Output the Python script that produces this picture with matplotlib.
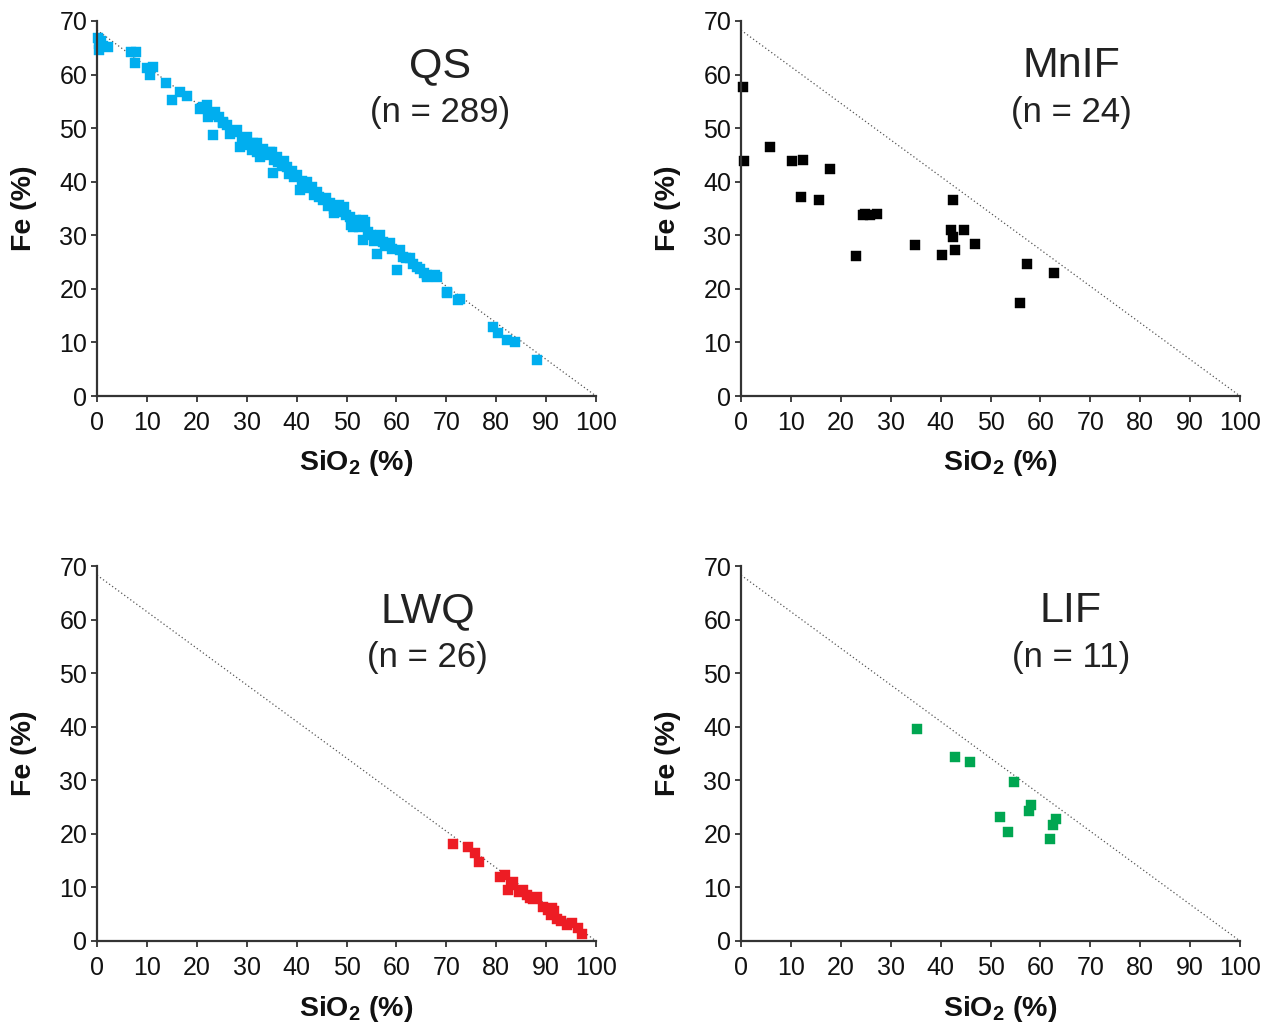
import matplotlib
matplotlib.use("Agg")
import matplotlib.pyplot as plt

plt.rcParams['font.family'] = ['Liberation Sans', 'DejaVu Sans']
plt.rcParams['mathtext.fontset'] = 'custom'
plt.rcParams['mathtext.rm'] = 'Liberation Sans'
plt.rcParams['mathtext.bf'] = 'Liberation Sans:bold'

# ---- data ----
qs_sio2 = [0.3, 0.5, 0.4, 0.8, 1.2, 2.3, 6.9, 7.9, 7.6, 10.0, 11.3, 10.7, 13.8, 15.0, 16.6, 18.1,
           20.6, 21.3, 22.0, 22.3, 22.6, 23.3, 23.6, 24.5, 25.3, 25.3, 26.0, 26.7, 27.3, 28.0,
           28.7, 29.0, 29.5, 30.0, 30.0, 31.3, 31.0, 32.0, 32.0, 32.7, 33.3, 34.0, 34.7, 35.0,
           35.3, 35.5, 36.0, 36.3, 37.0, 37.5, 38.0, 38.5, 39.0, 39.5, 40.0, 40.7, 41.0, 41.5,
           42.0, 42.5, 43.0, 43.5, 44.0, 44.5, 45.3, 45.8, 46.2, 46.7, 47.4, 47.5, 48.0, 48.5,
           49.4, 49.8, 50.7, 51.0, 51.4, 52.0, 52.5, 53.4, 53.4, 53.7, 54.3, 55.0, 55.5, 56.1,
           56.7, 57.3, 57.8, 58.7, 59.2, 60.1, 60.7, 61.3, 62.0, 62.7, 63.3, 64.1, 64.8, 65.5,
           66.1, 66.1, 67.7, 68.1, 70.1, 70.1, 72.4, 72.7, 79.4, 80.4, 82.1, 83.8, 88.1]
qs_fe = [66.8, 65.8, 64.6, 66.2, 65.4, 65.2, 64.3, 64.3, 62.1, 61.2, 61.5, 59.9, 58.4, 55.3, 56.8, 56.0,
         53.5, 54.0, 54.3, 52.1, 52.5, 48.7, 53.1, 52.0, 51.2, 50.9, 50.5, 49.0, 49.3, 49.6,
         46.5, 48.1, 47.5, 46.9, 48.4, 47.2, 46.0, 45.6, 47.2, 44.7, 46.2, 45.0, 45.6, 45.6,
         41.6, 44.0, 44.7, 43.7, 43.0, 43.8, 42.8, 41.5, 42.0, 40.8, 41.3, 38.5, 40.2, 39.5,
         40.0, 38.8, 39.0, 37.6, 38.1, 37.2, 36.6, 37.0, 35.5, 36.0, 34.1, 35.0, 34.4, 35.6,
         35.3, 33.8, 33.5, 32.0, 31.6, 32.9, 31.5, 29.1, 32.9, 32.5, 30.6, 30.0, 29.0, 26.6,
         30.1, 28.8, 28.0, 28.5, 27.5, 23.5, 27.3, 26.0, 25.8, 25.7, 24.6, 24.1, 23.8, 23.0,
         22.6, 22.3, 22.6, 22.3, 19.2, 19.5, 17.9, 18.2, 12.9, 11.7, 10.5, 10.1, 6.8]

mnif_sio2 = [0.5, 0.6, 5.9, 10.2, 12.5, 12.1, 17.8, 15.7, 23.0, 24.4, 24.9, 25.9, 27.3, 34.9,
             40.2, 42.5, 42.1, 42.4, 42.8, 44.7, 46.9, 57.4, 62.8, 56.0]
mnif_fe = [57.6, 43.8, 46.5, 43.8, 44.1, 37.2, 42.4, 36.5, 26.2, 33.7, 33.9, 33.8, 34.0, 28.2,
           26.4, 36.6, 30.9, 29.7, 27.3, 30.9, 28.4, 24.6, 23.0, 17.4]

lwq_sio2 = [71.4, 74.4, 75.8, 76.6, 80.8, 81.8, 82.4, 83.4, 84.6, 86.1, 86.8, 88.1, 89.3, 91.1,
            90.9, 92.1, 94.1, 95.1, 97.1, 82.9, 85.3, 87.4, 90.3, 91.6, 93.0, 96.3]
lwq_fe = [18.2, 17.6, 16.4, 14.8, 11.9, 12.3, 9.5, 11.1, 9.2, 8.6, 8.0, 8.2, 6.3, 6.1,
          4.9, 4.2, 3.0, 3.3, 1.4, 10.4, 9.6, 7.9, 5.8, 5.6, 3.8, 2.4]

lif_sio2 = [35.3, 42.9, 45.9, 54.8, 51.9, 53.6, 58.1, 57.7, 63.2, 62.5, 62.0]
lif_fe = [39.5, 34.3, 33.4, 29.7, 23.1, 20.3, 25.3, 24.2, 22.8, 21.7, 19.0]

line_sio2 = [0, 100]
line_fe = [68.3, 0]

panels = [
    ("QS", "(n = 289)", qs_sio2, qs_fe, "#00AEEF", 68.7, 7.6),
    ("MnIF", "(n = 24)", mnif_sio2, mnif_fe, "#000000", 66.3, 6.8),
    ("LWQ", "(n = 26)", lwq_sio2, lwq_fe, "#ED1C24", 66.3, 7.4),
    ("LIF", "(n = 11)", lif_sio2, lif_fe, "#00A651", 66.1, 7.0),
]

W, H = 1271, 1025
fig = plt.figure(figsize=(W / 100, H / 100), dpi=100)
lefts = [97, 741, 97, 741]
tops = [21, 21, 566, 566]
axw, axh = 499, 375

for (name, ntxt, xs, ys, col, tx, ms), l, t in zip(panels, lefts, tops):
    ax = fig.add_axes([l / W, 1 - (t + axh) / H, axw / W, axh / H])
    ax.plot(line_sio2, line_fe, linestyle=(0, (1, 2)), color='#555555', lw=0.9, zorder=1)
    ax.plot(xs, ys, 's', color=col, ms=ms, mec=col, mew=0.3, zorder=2, clip_on=False)
    ax.set_xlim(0, 100)
    ax.set_ylim(0, 70)
    ax.set_xticks(range(0, 101, 10))
    ax.set_yticks(range(0, 71, 10))
    for s in ['top', 'right']:
        ax.spines[s].set_visible(False)
    for s in ['left', 'bottom']:
        ax.spines[s].set_color('#333333')
        ax.spines[s].set_linewidth(1.6)
    ax.tick_params(direction='out', length=4, width=1.3, color='#333333',
                   labelsize=18, pad=3, labelcolor='#111111')
    ax.tick_params(axis='x', pad=6.5)
    ax.set_xlabel(r'SiO$_\mathbf{2}$ (%)', fontsize=20.5, fontweight='bold', color='#111111')
    ax.set_ylabel('Fe (%)', fontsize=20.5, fontweight='bold', color='#111111')
    ax.xaxis.set_label_coords(0.52, -0.14)
    ax.yaxis.set_label_coords(-0.12, 0.5)
    ax.text(tx, 61.6, name, fontsize=31, ha='center', va='center', color='#222222')
    ax.text(tx, 53.0, ntxt, fontsize=25, ha='center', va='center', color='#222222')

fig.savefig("out.png", dpi=100)
